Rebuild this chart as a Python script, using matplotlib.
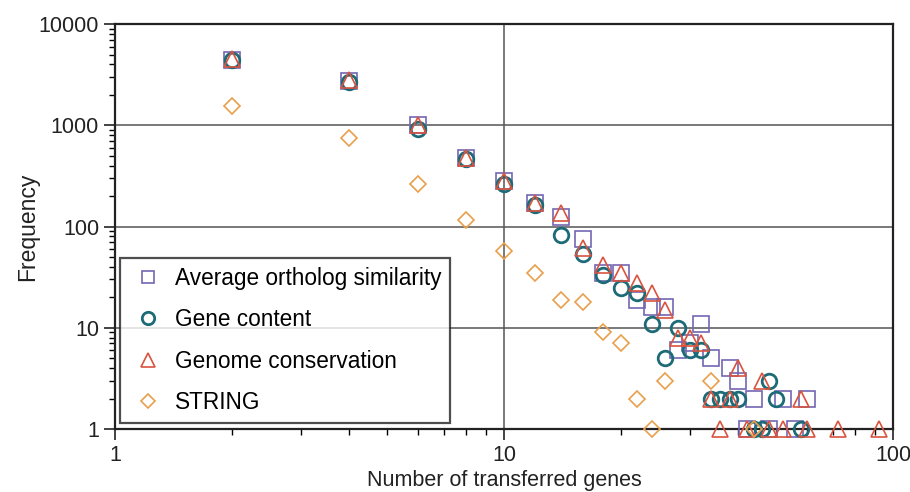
import matplotlib
matplotlib.use('Agg')
import matplotlib.pyplot as plt
from matplotlib.ticker import LogLocator, NullFormatter, FixedLocator, FixedFormatter

plt.rcParams['font.family'] = ['Liberation Sans', 'DejaVu Sans']

# Average ortholog similarity (squares)
sq_x = [2, 4, 6, 8, 10, 12, 14, 16, 18, 20, 22, 24, 26, 28, 30, 32, 34, 38, 40, 44, 52, 60, 42, 48, 56]
sq_y = [4400, 2750, 1000, 480, 285, 172, 125, 75, 35, 35, 19, 16, 16, 6, 7, 11, 5, 4, 3, 2, 2, 2, 1, 1, 1]

# Gene content (circles)
ci_x = [2, 4, 6, 8, 10, 12, 14, 16, 18, 20, 22, 24, 26, 28, 30, 32, 34, 36, 38, 40, 48, 50, 44, 46, 58]
ci_y = [4400, 2650, 920, 460, 265, 165, 83, 53, 33, 25, 22, 11, 5, 10, 6, 6, 2, 2, 2, 2, 3, 2, 1, 1, 1]

# Genome conservation (triangles)
tr_x = [2, 4, 6, 8, 10, 12, 14, 16, 18, 20, 22, 24, 26, 28, 30, 32, 34, 38, 40, 46, 58, 36, 42, 48, 52, 60, 72, 92]
tr_y = [4500, 2800, 1000, 480, 280, 170, 135, 61, 42, 35, 28, 22, 15, 8, 8, 7, 2, 2, 4, 3, 2, 1, 1, 1, 1, 1, 1, 1]

# STRING (diamonds)
st_x = [2, 4, 6, 8, 10, 12, 14, 16, 18, 20, 22, 24, 26, 34, 44]
st_y = [1550, 750, 263, 115, 58, 35, 19, 18, 9, 7, 2, 1, 3, 3, 1]

fig = plt.figure(figsize=(9.1, 4.92), dpi=100)
ax = fig.add_axes([0.1264, 0.128, 0.855, 0.823])

# reference lines
for yv in [10, 100, 1000]:
    ax.axhline(yv, color='#555555', lw=1.1, zorder=1)
ax.axvline(10, color='#555555', lw=1.1, zorder=1)

ax.plot(sq_x, sq_y, ls='none', marker='s', ms=11, mfc='none', mec='#7366b3', mew=1.2,
        label='Average ortholog similarity', zorder=3, clip_on=False)
ax.plot(ci_x, ci_y, ls='none', marker='o', ms=10.5, mfc='none', mec='#1d6b77', mew=2.0,
        label='Gene content', zorder=3, clip_on=False)
ax.plot(tr_x, tr_y, ls='none', marker='^', ms=12, mfc='none', mec='#d9533f', mew=1.2,
        label='Genome conservation', zorder=4, clip_on=False)
ax.plot(st_x, st_y, ls='none', marker='D', ms=8.5, mfc='none', mec='#e8a04c', mew=1.2,
        label='STRING', zorder=4, clip_on=False)

ax.set_xscale('log')
ax.set_yscale('log')
ax.set_xlim(1, 100)
ax.set_ylim(1, 10000)

ax.xaxis.set_major_locator(FixedLocator([1, 10, 100]))
ax.xaxis.set_major_formatter(FixedFormatter(['1', '10', '100']))
ax.yaxis.set_major_locator(FixedLocator([1, 10, 100, 1000, 10000]))
ax.yaxis.set_major_formatter(FixedFormatter(['1', '10', '100', '1000', '10000']))
ax.xaxis.set_minor_locator(LogLocator(base=10, subs=range(2, 10)))
ax.yaxis.set_minor_locator(LogLocator(base=10, subs=range(2, 10)))
ax.xaxis.set_minor_formatter(NullFormatter())
ax.yaxis.set_minor_formatter(NullFormatter())

ax.tick_params(which='major', direction='out', length=8, width=1.2, labelsize=15.5, colors='#222222')
ax.tick_params(which='minor', direction='out', length=4, width=1.0)
for s in ax.spines.values():
    s.set_linewidth(1.6)
    s.set_color('#222222')

ax.set_xlabel('Number of transferred genes', fontsize=15.5, color='#222222', labelpad=3)
ax.set_ylabel('Frequency', fontsize=16.5, color='#222222', labelpad=0)

leg = ax.legend(loc='lower left', bbox_to_anchor=(0.006, 0.015), borderaxespad=0,
                fontsize=16.3, frameon=True, fancybox=False, edgecolor='#222222',
                labelspacing=0.82, handletextpad=0.35, borderpad=0.38, handlelength=1.7,
                markerscale=0.85)
leg.get_frame().set_linewidth(1.6)

fig.savefig('out.png', dpi=100, facecolor='white')
